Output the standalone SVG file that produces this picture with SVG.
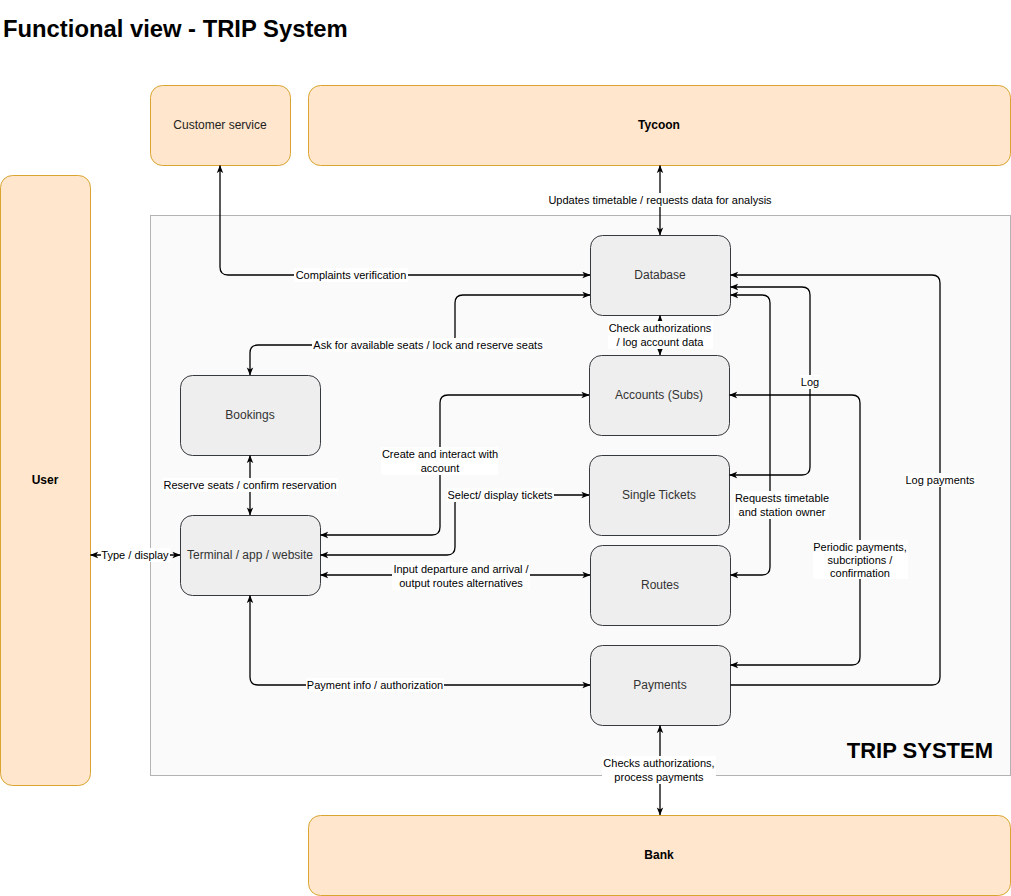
<svg xmlns="http://www.w3.org/2000/svg" width="1011" height="896" viewBox="0 0 1011 896">
<style>
.ext{fill:#ffe6cc;stroke:#d9a530;stroke-width:1}
.box{fill:#eeeeee;stroke:#36393d;stroke-width:1}
.extt{font-family:"Liberation Sans",Arial,sans-serif;font-size:12px;font-weight:bold;text-anchor:middle;fill:#000}
.ext2{font-family:"Liberation Sans",Arial,sans-serif;font-size:12px;text-anchor:middle;fill:#222}
.nt{font-family:"Liberation Sans",Arial,sans-serif;font-size:12px;text-anchor:middle;fill:#333}
.lbl{font-family:"Liberation Sans",Arial,sans-serif;font-size:11px;text-anchor:middle;fill:#000}
.bg{fill:#ffffff;stroke:none}
.c{fill:none;stroke:#000;stroke-width:1.3}
.b{marker-start:url(#ah);marker-end:url(#ah)}
.e{marker-end:url(#ah)}
</style>
<defs>
<marker id="ah" viewBox="0 0 10 10" refX="9.5" refY="5" markerWidth="8" markerHeight="8" markerUnits="userSpaceOnUse" orient="auto-start-reverse">
<path d="M0,1 L10,5 L0,9 L2.5,5 z" fill="#000"/>
</marker>
</defs>
<rect width="1011" height="896" fill="#ffffff"/>
<text x="3" y="37" font-family="'Liberation Sans',Arial,sans-serif" font-size="23.8" font-weight="bold" fill="#000">Functional view - TRIP System</text>

<g id="trip-system">
<rect x="150.5" y="215.5" width="860" height="560" fill="#fafafa" stroke="#b3b3b3"/>
<text x="993" y="758" text-anchor="end" font-family="'Liberation Sans',Arial,sans-serif" font-size="22" font-weight="bold" fill="#000">TRIP SYSTEM</text>
</g>

<g id="customer-service">
<rect class="ext" x="150.5" y="85.5" width="140" height="80" rx="12"/>
<text class="ext2" x="220" y="129">Customer service</text>
</g>
<g id="tycoon">
<rect class="ext" x="308.5" y="85.5" width="702" height="80" rx="12"/>
<text class="extt" x="659" y="129">Tycoon</text>
</g>
<g id="user">
<rect class="ext" x="0.5" y="175.5" width="90" height="610" rx="12"/>
<text class="extt" x="45" y="484">User</text>
</g>
<g id="bank">
<rect class="ext" x="308.5" y="815.5" width="702" height="80" rx="12"/>
<text class="extt" x="659" y="859">Bank</text>
</g>

<g id="database">
<rect class="box" x="590.5" y="235.5" width="140" height="80" rx="12"/>
<text class="nt" x="660" y="279">Database</text>
</g>
<g id="accounts">
<rect class="box" x="589.5" y="355.5" width="140" height="80" rx="12"/>
<text class="nt" x="659" y="399">Accounts (Subs)</text>
</g>
<g id="bookings">
<rect class="box" x="180.5" y="375.5" width="140" height="80" rx="12"/>
<text class="nt" x="250" y="419">Bookings</text>
</g>
<g id="single-tickets">
<rect class="box" x="589.5" y="455.5" width="140" height="80" rx="12"/>
<text class="nt" x="659" y="499">Single Tickets</text>
</g>
<g id="terminal">
<rect class="box" x="180.5" y="515.5" width="140" height="80" rx="12"/>
<text class="nt" x="250" y="559">Terminal / app / website</text>
</g>
<g id="routes">
<rect class="box" x="590.5" y="545.5" width="140" height="80" rx="12"/>
<text class="nt" x="660" y="589">Routes</text>
</g>
<g id="payments">
<rect class="box" x="590.5" y="645.5" width="140" height="80" rx="12"/>
<text class="nt" x="660" y="689">Payments</text>
</g>

<g id="connectors">
<path class="c b" d="M220,165.5 V267 Q220,275 228,275 H590"/>
<path class="c b" d="M660,165.5 V235"/>
<path class="c b" d="M250,375 V353 Q250,345 258,345 H447 Q455,345 455,337 V303 Q455,295 463,295 H590"/>
<path class="c b" d="M660,315.5 V355"/>
<path class="c b" d="M250,455.5 V515"/>
<path class="c b" d="M90.5,555 H180"/>
<path class="c b" d="M320.5,535 H432 Q440,535 440,527 V403 Q440,395 448,395 H589"/>
<path class="c b" d="M320.5,555 H447 Q455,555 455,547 V503 Q455,495 463,495 H589"/>
<path class="c b" d="M320.5,575 H590"/>
<path class="c b" d="M250,595.5 V677 Q250,685 258,685 H590"/>
<path class="c b" d="M660,725.5 V815"/>
<path class="c b" d="M730.5,287 H802 Q810,287 810,295 V467 Q810,475 802,475 H729.5"/>
<path class="c b" d="M730.5,295 H762 Q770,295 770,303 V567 Q770,575 762,575 H730.5"/>
<path class="c b" d="M729.5,395 H852 Q860,395 860,403 V657 Q860,665 852,665 H730.5"/>
<path class="c e" d="M730.5,685 H932 Q940,685 940,677 V283 Q940,275 932,275 H730.5"/>

<rect class="bg" x="547" y="193" width="227" height="14"/>
<text class="lbl" x="660" y="204">Updates timetable / requests data for analysis</text>
<rect class="bg" x="294" y="268" width="114" height="14"/>
<text class="lbl" x="351" y="279">Complaints verification</text>
<rect class="bg" x="312" y="338" width="232" height="14"/>
<text class="lbl" x="428" y="349">Ask for available seats / lock and reserve seats</text>
<rect class="bg" x="608" y="321" width="105" height="28"/>
<text class="lbl" x="660" y="332">Check authorizations</text>
<text class="lbl" x="660" y="346">/ log account data</text>
<rect class="bg" x="801" y="375" width="19" height="14"/>
<text class="lbl" x="810" y="386">Log</text>
<rect class="bg" x="163" y="478" width="175" height="14"/>
<text class="lbl" x="250" y="489">Reserve seats / confirm reservation</text>
<rect class="bg" x="381" y="447" width="117" height="28"/>
<text class="lbl" x="440" y="458">Create and interact with</text>
<text class="lbl" x="440" y="472">account</text>
<rect class="bg" x="447" y="488" width="107" height="14"/>
<text class="lbl" x="500" y="499">Select/ display tickets</text>
<rect class="bg" x="101" y="548" width="69" height="14"/>
<text class="lbl" x="135" y="559">Type / display</text>
<rect class="bg" x="392" y="562" width="138" height="28"/>
<text class="lbl" x="461" y="573">Input departure and arrival /</text>
<text class="lbl" x="461" y="587">output routes alternatives</text>
<rect class="bg" x="734" y="491" width="95" height="28"/>
<text class="lbl" x="782" y="502">Requests timetable</text>
<text class="lbl" x="782" y="516">and station owner</text>
<rect class="bg" x="813" y="540" width="95" height="39"/>
<text class="lbl" x="860" y="551">Periodic payments,</text>
<text class="lbl" x="860" y="564">subcriptions /</text>
<text class="lbl" x="860" y="577">confirmation</text>
<rect class="bg" x="905" y="473" width="71" height="14"/>
<text class="lbl" x="940" y="484">Log payments</text>
<rect class="bg" x="306" y="678" width="138" height="14"/>
<text class="lbl" x="375" y="689">Payment info / authorization</text>
<rect class="bg" x="602" y="756" width="114" height="28"/>
<text class="lbl" x="659" y="767">Checks authorizations,</text>
<text class="lbl" x="659" y="781">process payments</text>
</g>
</svg>
